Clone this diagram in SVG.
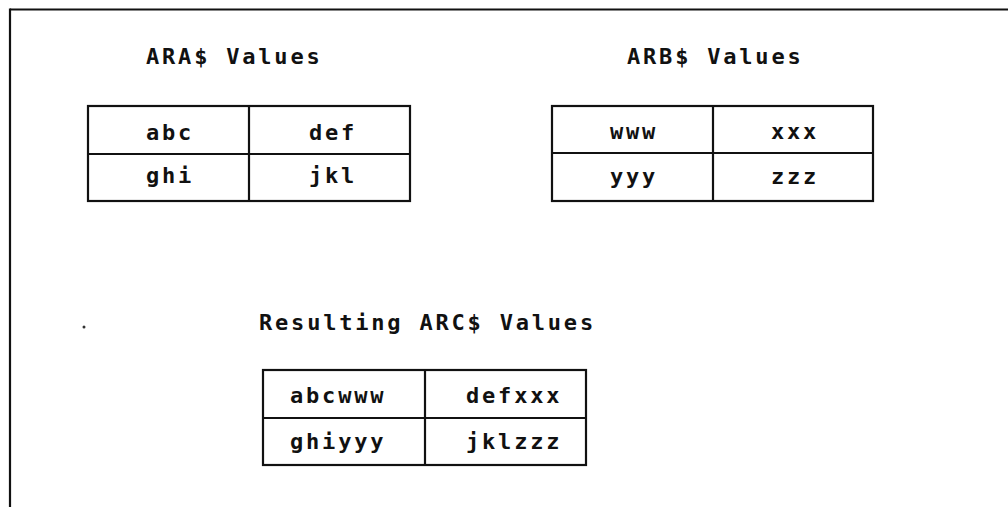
<svg xmlns="http://www.w3.org/2000/svg" width="1008" height="507" viewBox="0 0 1008 507">
<style>
.t{font-family:"DejaVu Sans Mono","Liberation Mono",monospace;font-weight:bold;font-size:22px;letter-spacing:2.8px;fill:#111}
.c{font-family:"DejaVu Sans Mono","Liberation Mono",monospace;font-weight:bold;font-size:22px;letter-spacing:2.8px;fill:#111}
.b{fill:none;stroke:#111;stroke-width:2.2}
</style>
<rect width="1008" height="507" fill="#fff"/>
<g id="frame">
<line class="b" x1="10" y1="9.5" x2="1008" y2="9.5" stroke-width="2.5"/>
<line class="b" x1="10" y1="8.5" x2="10" y2="507"/>
<circle cx="84" cy="327" r="1.5" fill="#333"/>
</g>
<g id="ara">
<text class="t" x="146" y="64">ARA$ Values</text>
<rect class="b" x="88" y="106" width="322" height="95"/>
<line class="b" x1="88" y1="154" x2="410" y2="154"/>
<line class="b" x1="249" y1="106" x2="249" y2="201"/>
<text class="c" x="146" y="140">abc</text>
<text class="c" x="309" y="140">def</text>
<text class="c" x="146" y="183">ghi</text>
<text class="c" x="309" y="183">jkl</text>
</g>
<g id="arb">
<text class="t" x="627" y="64">ARB$ Values</text>
<rect class="b" x="552" y="106" width="321" height="95"/>
<line class="b" x1="552" y1="153" x2="873" y2="153"/>
<line class="b" x1="713" y1="106" x2="713" y2="201"/>
<text class="c" x="610" y="139">www</text>
<text class="c" x="771" y="139">xxx</text>
<text class="c" x="610" y="184">yyy</text>
<text class="c" x="771" y="184">zzz</text>
</g>
<g id="arc">
<text class="t" x="259" y="330">Resulting ARC$ Values</text>
<rect class="b" x="263" y="370" width="323" height="95"/>
<line class="b" x1="263" y1="418" x2="586" y2="418"/>
<line class="b" x1="425" y1="370" x2="425" y2="465"/>
<text class="c" x="290" y="403">abcwww</text>
<text class="c" x="466" y="403">defxxx</text>
<text class="c" x="290" y="449">ghiyyy</text>
<text class="c" x="466" y="449">jklzzz</text>
</g>
<g id="connectors"/>
</svg>
